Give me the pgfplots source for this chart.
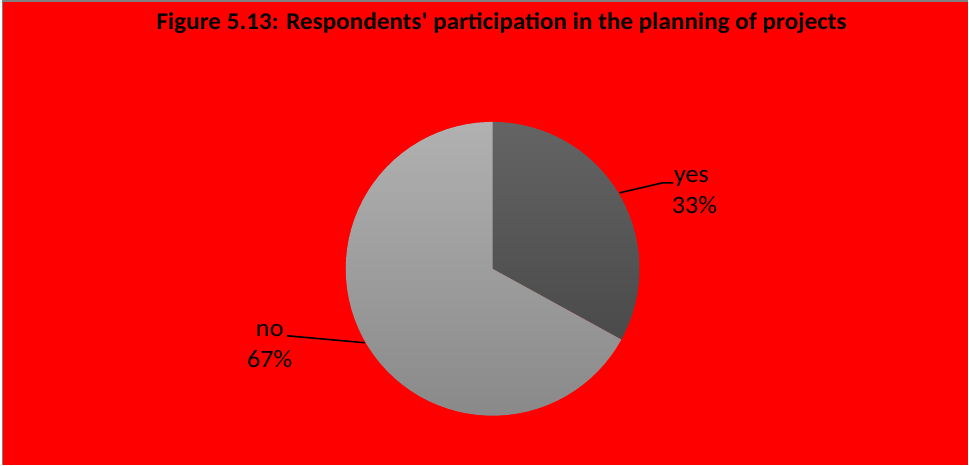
\documentclass[border=0pt]{standalone}
\usepackage{fontspec}
\setmainfont{Carlito}[Ligatures=TeXOff]
\usepackage{pgfplots}
\pgfplotsset{compat=1.18}
\definecolor{bgred}{RGB}{255,0,0}
\definecolor{yestop}{RGB}{100,100,100}
\definecolor{yesbot}{RGB}{74,74,74}
\definecolor{notop}{RGB}{177,177,177}
\definecolor{nobot}{RGB}{137,137,137}
\definecolor{frame}{RGB}{128,128,128}
\begin{document}
\begin{tikzpicture}
\begin{axis}[
  scale only axis,
  width=969bp, height=465bp,
  xmin=-493, xmax=476, ymin=-196, ymax=269,
  ticks=none,
  axis line style={draw=none},
  axis background/.style={fill=bgred},
  clip=false,
]
% left white strip and frame
\addplot[fill=white, draw=none] coordinates {(-493,-196) (-491,-196) (-491,269) (-493,269)} --cycle;
\addplot[frame, line width=1.5bp] coordinates {(-490.3,-196) (-490.3,268.2) (476,268.2)};
% yes slice: 33% (90 deg to -28.8 deg)
\addplot[draw=none, top color=yestop, bottom color=yesbot, data cs=polar] coordinates {
(0,0) (90,147) (86,147) (82,147) (78,147) (74,147) (70,147) (66,147) (62,147)
(58,147) (54,147) (50,147) (46,147) (42,147) (38,147) (34,147) (30,147) (26,147)
(22,147) (18,147) (14,147) (10,147) (6,147) (2,147) (-2,147) (-6,147) (-10,147)
(-14,147) (-18,147) (-22,147) (-26,147) (-28.8,147)} --cycle;
% no slice: 67% (-28.8 deg to -270 deg)
\addplot[draw=none, top color=notop, bottom color=nobot, data cs=polar] coordinates {
(0,0) (-28.8,147) (-32,147) (-36,147) (-40,147) (-44,147) (-48,147) (-52,147)
(-56,147) (-60,147) (-64,147) (-68,147) (-72,147) (-76,147) (-80,147) (-84,147)
(-88,147) (-92,147) (-96,147) (-100,147) (-104,147) (-108,147) (-112,147)
(-116,147) (-120,147) (-124,147) (-128,147) (-132,147) (-136,147) (-140,147)
(-144,147) (-148,147) (-152,147) (-156,147) (-160,147) (-164,147) (-168,147)
(-172,147) (-176,147) (-180,147) (-184,147) (-188,147) (-192,147) (-196,147)
(-200,147) (-204,147) (-208,147) (-212,147) (-216,147) (-220,147) (-224,147)
(-228,147) (-232,147) (-236,147) (-240,147) (-244,147) (-248,147) (-252,147)
(-256,147) (-260,147) (-264,147) (-268,147) (-270,147)} --cycle;
% leader lines
\addplot[black, line width=1.6bp] coordinates {(127,76) (170,86) (181,86)};
\addplot[black, line width=1.6bp] coordinates {(-206,-67) (-128,-74)};
% labels
\node[anchor=base, inner sep=0pt, xscale=1.05, font=\fontsize{25bp}{30bp}\selectfont] at (axis cs:199,86) {yes};
\node[anchor=base, inner sep=0pt, xscale=1.05, font=\fontsize{25bp}{30bp}\selectfont] at (axis cs:202,55) {33\%};
\node[anchor=base, inner sep=0pt, xscale=1.05, font=\fontsize{25bp}{30bp}\selectfont] at (axis cs:-223,-68) {no};
\node[anchor=base, inner sep=0pt, xscale=1.05, font=\fontsize{25bp}{30bp}\selectfont] at (axis cs:-223,-99) {67\%};
% title
\node[anchor=base, inner sep=0pt, xscale=1.05, font=\fontsize{24bp}{28bp}\selectfont\bfseries] at (axis cs:9,239)
  {Figure 5.13: Respondents' participation in the planning of projects};
\end{axis}
\end{tikzpicture}
\end{document}
